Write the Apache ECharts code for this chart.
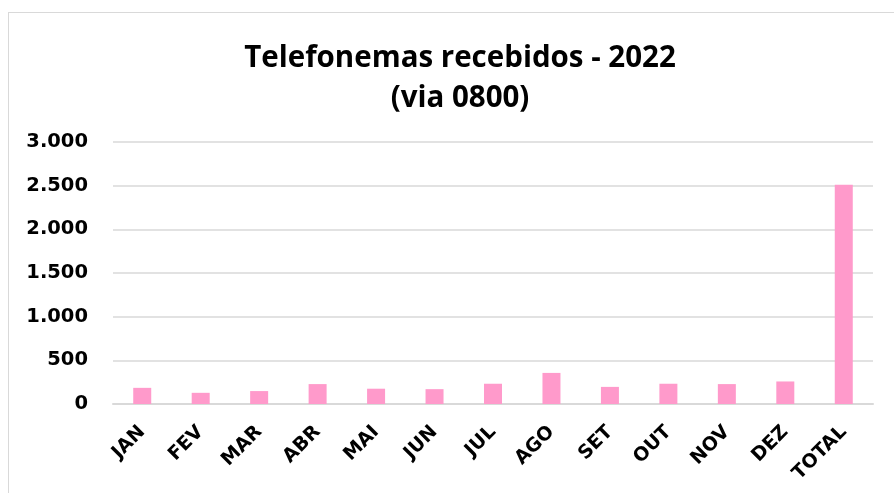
<!DOCTYPE html>
<html>
<head>
<meta charset="utf-8">
<script src="https://cdn.jsdelivr.net/npm/echarts@6/dist/echarts.min.js"></script>
<style>
  html, body { margin: 0; padding: 0; background: #fff; overflow: hidden; }
  #frame { position: absolute; left: 8px; top: 12px; width: 900px; height: 500px; border: 1px solid #d9d9d9; box-sizing: border-box; }
  #chart { position: absolute; left: 0; top: 0; width: 894px; height: 493px; }
</style>
</head>
<body>
<div id="frame"></div>
<div id="chart"></div>
<script>
// categories and values
const meses = ["JAN", "FEV", "MAR", "ABR", "MAI", "JUN", "JUL", "AGO", "SET", "OUT", "NOV", "DEZ", "TOTAL"];
const chamadas = [185, 128, 148, 228, 175, 170, 232, 356, 196, 232, 228, 258, 2510];
const yTicks = [0, 500, 1000, 1500, 2000, 2500, 3000];

const chart = echarts.init(document.getElementById("chart"));

// 1234 -> "1.234"
function fmt(v) {
  return String(v).replace(/\B(?=(\d{3})+(?!\d))/g, ".");
}

const option = {
  animation: false,
  title: {
    text: "Telefonemas recebidos - 2022\n(via 0800)",
    left: 455,
    textAlign: "center",
    top: 34,
    textStyle: {
      fontFamily: "Open Sans",
      fontWeight: "bold",
      fontSize: 29.5,
      lineHeight: 40,
      color: "#000",
    },
  },
  grid: {
    left: 113,
    right: 21,
    top: 142,
    bottom: 89,
  },
  xAxis: {
    type: "category",
    data: meses,
    axisLine: { lineStyle: { color: "#d9d9d9", width: 2 } },
    axisTick: { show: false },
    axisLabel: {
      rotate: 45,
      interval: 0,
      margin: 25,
      color: "#000",
      fontFamily: "DejaVu Sans",
      fontWeight: "bold",
      fontSize: 19,
    },
  },
  yAxis: {
    type: "value",
    min: yTicks[0],
    max: yTicks[yTicks.length - 1],
    interval: 500,
    axisLine: { show: false },
    axisTick: { show: false },
    splitLine: { lineStyle: { color: "#d9d9d9", width: 1.5 } },
    axisLabel: {
      margin: 25,
      color: "#000",
      fontFamily: "DejaVu Sans",
      fontWeight: "bold",
      fontSize: 19.5,
      formatter: fmt,
    },
  },
  series: [
    {
      type: "bar",
      data: chamadas,
      barWidth: 18,
      itemStyle: { color: "#ff9acb" },
    },
  ],
};

chart.setOption(option);
</script>
</body>
</html>
